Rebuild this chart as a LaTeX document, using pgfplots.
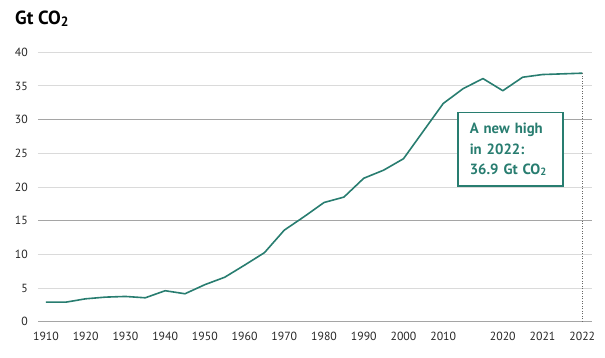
\documentclass[border=0pt]{standalone}
\usepackage{fontspec}
\setmainfont{PT Sans}
\usepackage{pgfplots}
\pgfplotsset{compat=1.18}
\definecolor{teal1}{RGB}{40,125,112}
\definecolor{gridlight}{RGB}{218,218,218}
\definecolor{griddark}{RGB}{165,165,165}
\newcommand\subtwo[1]{{\fontsize{#1}{#1}\selectfont\raisebox{-1pt}{2}}}
\begin{document}
\begin{tikzpicture}[x=1pt,y=1pt]
\path[use as bounding box] (0,0) rectangle (605,357);
\node[anchor=base west, inner sep=0pt, font=\fontsize{19}{20}\selectfont\bfseries] at (15,332) {Gt CO\subtwo{13.5}};
\begin{axis}[
  at={(38pt,35.3pt)}, anchor=south west,
  scale only axis, width=554pt, height=269.4pt,
  xmin=-0.4, xmax=27.49, ymin=0, ymax=40,
  axis x line*=bottom, axis y line*=left,
  axis line style={draw=none},
  major tick length=0pt,
  ytick={5,10,20,25,35,40},
  extra y ticks={0,15,30},
  ymajorgrids,
  major grid style={gridlight, line width=1pt},
  extra y tick style={major grid style={griddark, line width=1pt}},
  xtick={0,2,4,6,8,10,12,14,16,18,20,23,25,27},
  xticklabels={1910,1920,1930,1940,1950,1960,1970,1980,1990,2000,2010,2020,2021,2022},
  /pgf/number format/assume math mode=true,
  tick label style={font=\fontsize{11.8}{12}\selectfont, text=black!85, inner sep=0pt},
  yticklabel style={anchor=east},
  xticklabel style={anchor=north},
  yticklabel shift=10pt,
  xticklabel shift=10.5pt,
  clip=false,
]
\addplot[teal1, line width=1.6pt, line join=round] coordinates {
(0,2.9) (1,2.9) (2,3.4) (3,3.65) (4,3.75) (5,3.55) (6,4.6) (7,4.15)
(8,5.5) (9,6.6) (10,8.4) (11,10.25) (12,13.6) (13,15.6) (14,17.7) (15,18.5)
(16,21.3) (17,22.5) (18,24.2) (19,28.3) (20,32.4) (21,34.6) (22,36.1)
(23,34.3) (24,36.3) (25,36.7) (26,36.8) (27,36.9)
};
\addplot[black!60, line width=1.2pt, dash pattern=on 1.2pt off 1.3pt] coordinates {(27,0) (27,36.9)};
\node[draw=teal1, line width=1.6pt, fill=white, text=teal1,
  font=\fontsize{14.8}{20.5}\selectfont\bfseries, align=left,
  text width=86pt, inner xsep=9.5pt, inner ysep=0pt, minimum height=73.7pt,
  anchor=center] at (axis cs:23.4,25.6) {\hspace*{2pt}A new high\\\hspace*{2pt}in 2022:\\\hspace*{2pt}36.9 Gt CO\subtwo{10.5}};
\end{axis}
\end{tikzpicture}
\end{document}
